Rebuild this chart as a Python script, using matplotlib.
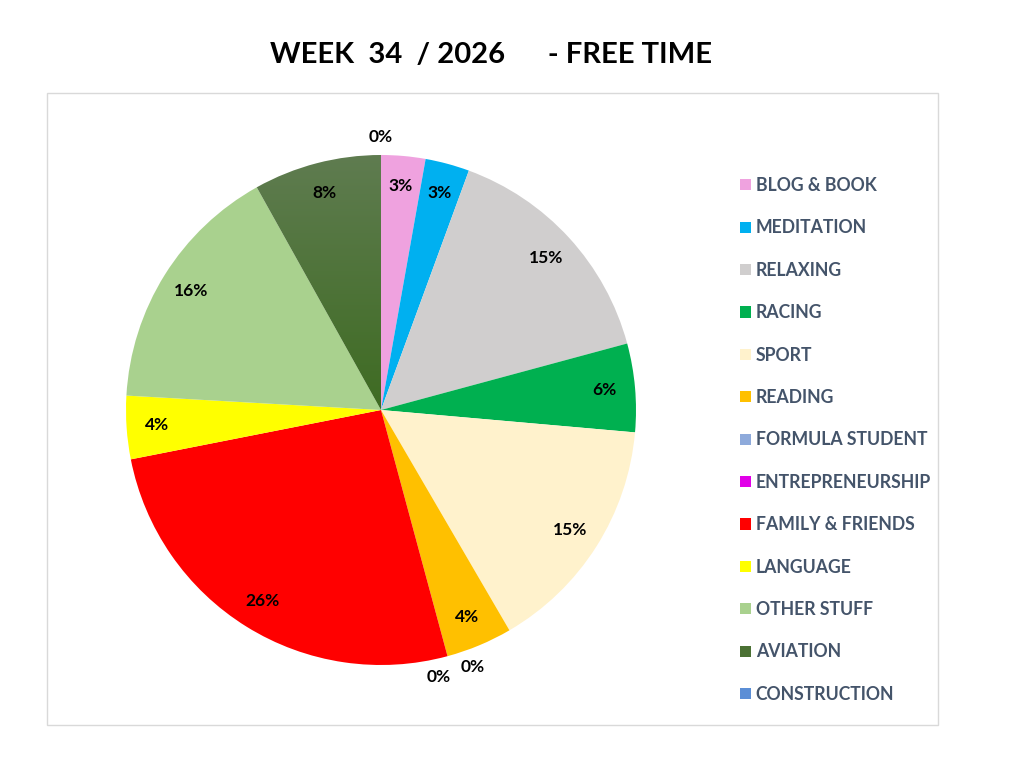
import numpy as np
import matplotlib.pyplot as plt
from matplotlib.patches import Patch, Rectangle
from matplotlib.colors import LinearSegmentedColormap

plt.rcParams['font.family'] = ['Lato', 'DejaVu Sans']

categories = ["BLOG & BOOK", "MEDITATION", "RELAXING", "RACING", "SPORT", "READING",
              "FORMULA STUDENT", "ENTREPRENEURSHIP", "FAMILY & FRIENDS", "LANGUAGE",
              "OTHER STUFF", "AVIATION", "CONSTRUCTION"]
shares = [2.8, 2.8, 15.2, 5.6, 15.2, 4.2, 0, 0, 26.1, 4.0, 16.0, 8.1, 0]
colors = ["#EFA2DF", "#00B0F0", "#D0CECE", "#00B050", "#FFF2CC", "#FFC000",
          "#8EAADB", "#E100E8", "#FF0000", "#FFFF00", "#A9D18E", "#4B7134", "#5B8ED6"]
title = "WEEK  34  / 2026      - FREE TIME"

fig = plt.figure(figsize=(10.23, 7.68), dpi=100)
fig.patch.set_facecolor("white")

# chart area frame
fig.patches.append(Rectangle((47/1023, 1-725/768), (938-47)/1023, (725-93)/768,
                             transform=fig.transFigure, fill=False,
                             edgecolor="#D9D9D9", linewidth=1))

fig.text(491/1023, 1-55/768, title, ha="center", va="center",
         fontsize=21, fontweight="bold", color="black")

cx, cy, r = 381, 410, 255
ax = fig.add_axes([(cx-r)/1023, 1-(cy+r)/768, 2*r/1023, 2*r/768])

def fmt(p):
    return "%d%%" % round(p)

wedges, texts, autotexts = ax.pie(shares, colors=colors, startangle=90, counterclock=False,
                                  autopct=fmt, pctdistance=0.88,
                                  wedgeprops=dict(linewidth=0),
                                  textprops=dict(fontsize=12.5, fontweight="bold", color="black"))

# gradient on aviation slice
av = categories.index("AVIATION")
w = wedges[av]
w.set_facecolor("none")
grad = np.linspace(0, 1, 256).reshape(-1, 1)
cmap = LinearSegmentedColormap.from_list("av", ["#5F7C50", "#3E6B22"])
im = ax.imshow(grad, cmap=cmap, extent=[-1, 0.05, 0, 1.0], origin="upper",
               aspect="auto", zorder=w.get_zorder())
im.set_clip_path(w)
ax.set_xlim(-1, 1)
ax.set_ylim(-1, 1)
ax.set_aspect("equal")

# zero slices: put labels outside
total = sum(shares)
cum = np.cumsum(shares) / total * 360
offsets = {6: -4.5, 7: 3.0, 12: 0.0}
for i, t in enumerate(autotexts):
    if shares[i] == 0:
        ang = cum[i] + offsets.get(i, 0)
        th = np.deg2rad(90 - ang)
        t.set_position((1.07*np.cos(th), 1.07*np.sin(th)))

handles = [Patch(facecolor=c, edgecolor="none") for c in colors]
fig.legend(handles, categories, loc="upper left", bbox_to_anchor=(740/1023, 1-177/768),
           frameon=False, labelcolor="#44546A",
           prop=dict(weight="bold", size=12.7),
           handlelength=0.6, handleheight=0.6, handletextpad=0.3,
           labelspacing=1.44, borderpad=0, borderaxespad=0)

fig.savefig("out.png", dpi=100, facecolor="white")
